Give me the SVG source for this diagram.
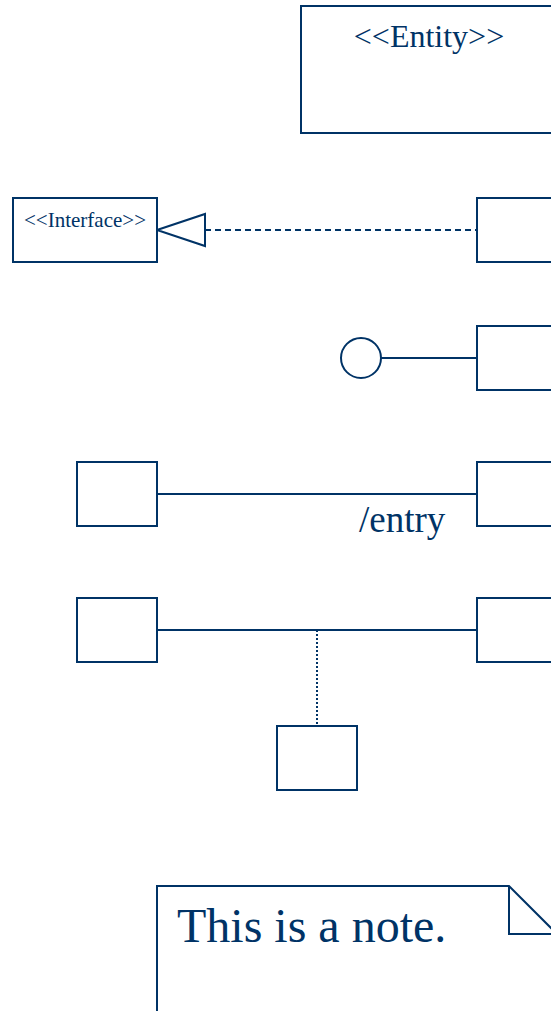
<svg xmlns="http://www.w3.org/2000/svg" width="551" height="1011" viewBox="0 0 551 1011">
<style>
.s{fill:#fff;stroke:#003366;stroke-width:2}
.l{fill:none;stroke:#003366;stroke-width:2}
.t{fill:#003366;font-family:"Liberation Serif","Times New Roman",serif}
</style>
<rect width="551" height="1011" fill="#fff"/>
<g id="connectors">
<line class="l" x1="205" y1="230" x2="477" y2="230" stroke-dasharray="6,4"/>
<polygon class="s" points="157,230 205,214 205,246"/>
<line class="l" x1="381" y1="358" x2="477" y2="358"/>
<line class="l" x1="157" y1="494" x2="477" y2="494"/>
<text class="t" x="359" y="532" font-size="37">/entry</text>
<line class="l" x1="157" y1="630" x2="477" y2="630"/>
<line class="l" x1="317" y1="630" x2="317" y2="726" stroke-dasharray="2,2"/>
</g>
<g id="entity">
<rect class="s" x="301" y="6" width="270" height="127"/>
<text class="t" x="429" y="47" font-size="32" text-anchor="middle">&lt;&lt;Entity&gt;&gt;</text>
</g>
<g id="interface">
<rect class="s" x="13" y="198" width="144" height="64"/>
<text class="t" x="85" y="227" font-size="21" text-anchor="middle">&lt;&lt;Interface&gt;&gt;</text>
</g>
<g id="impl"><rect class="s" x="477" y="198" width="94" height="64"/></g>
<g id="lollipop"><circle class="s" cx="361" cy="358" r="20"/></g>
<g id="provider"><rect class="s" x="477" y="326" width="94" height="64"/></g>
<g id="assocA"><rect class="s" x="77" y="462" width="80" height="64"/></g>
<g id="assocB"><rect class="s" x="477" y="462" width="94" height="64"/></g>
<g id="classA"><rect class="s" x="77" y="598" width="80" height="64"/></g>
<g id="classB"><rect class="s" x="477" y="598" width="94" height="64"/></g>
<g id="assocClass"><rect class="s" x="277" y="726" width="80" height="64"/></g>
<g id="note">
<path class="s" d="M157,1020 V886 H509 L557,934 V1020"/>
<path class="l" d="M509,886 V934 H557"/>
<text class="t" x="177" y="942" font-size="48">This is a note.</text>
</g>
</svg>
